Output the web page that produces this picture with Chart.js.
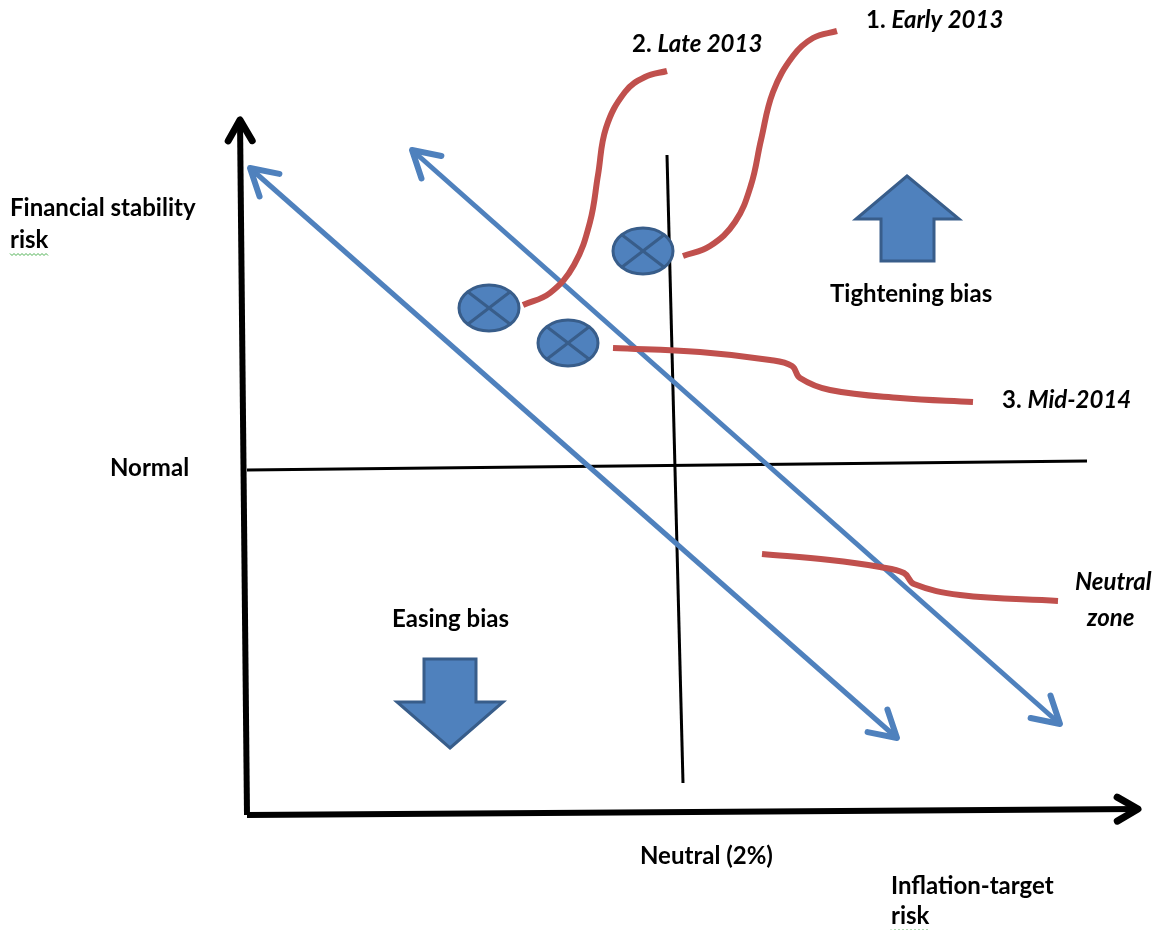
<!DOCTYPE html>
<html>
<head>
<meta charset="utf-8">
<script src="https://cdn.jsdelivr.net/npm/chart.js@4.4.1/dist/chart.umd.min.js"></script>
<style>
  body { margin: 0; background: #fff; }
  #wrap { width: 1163px; height: 930px; }
</style>
</head>
<body>
<div id="wrap"><canvas id="diagram" width="1163" height="930"></canvas></div>
<script>
// diagram space: x 0..1163 left->right, y 0..930 top->bottom
const yAxisPts = [[247, 815], [240, 120]];
const xAxisPts = [[247, 815], [1138, 809]];
const normalLine = [[247, 470], [1087, 461]];
const neutralLine = [[667, 155], [683, 783]];
const bandLow = [[250, 168], [897, 738]];
const bandHigh = [[412, 150], [1060, 724]];

const earlyPath = [[683, 256], [710, 246], [735, 222], [751, 185], [761, 140], [773, 92], [793, 56], [813, 38], [837, 31]];
const latePath = [[523, 305], [550, 293], [574, 265], [590, 222], [598, 175], [606, 128], [625, 92], [645, 77], [667, 71]];
const midPath = [[613, 348], [700, 352], [770, 360], [792, 366], [800, 378], [830, 390], [900, 398], [973, 402]];
const zonePath = [[762, 554], [830, 560], [880, 567], [904, 573], [914, 584], [960, 595], [1058, 601]];

const positionNames = ['Late 2013', 'Early 2013', 'Mid-2014'];
const positionX = [489, 643, 568];
const positionY = [308, 251, 343];

const upArrow = [[907, 176], [959, 219], [934, 219], [934, 261], [881, 261], [881, 219], [856, 219]];
const downArrow = [[450, 748], [503, 702], [476, 702], [476, 659], [424, 659], [424, 702], [397, 702]];

const labelTexts = [
  [['Financial stability', false]],
  [['risk', false]],
  [['Normal', false]],
  [['Tightening bias', false]],
  [['Easing bias', false]],
  [['2. ', false], ['Late 2013', true]],
  [['1. ', false], ['Early 2013', true]],
  [['3. ', false], ['Mid-2014', true]],
  [['Neutral', true]],
  [['zone', true]],
  [['Neutral (2%)', false]],
  [['Inflation-target', false]],
  [['risk', false]]
];
const labelX = [10, 10, 110, 830, 392, 632, 866, 1002, 1075, 1087, 640, 891, 891];
const labelY = [208, 240, 468, 294, 619, 44, 20, 400, 582, 618, 856, 886, 916];
const squiggled = [1, 12];

const BLUE = '#4f81bd';
const BLUE_DARK = '#385d8a';
const RED = '#c0504d';
const FONT = 'Lato, "Open Sans", sans-serif';

function pts(arr) { return arr.map(p => ({ x: p[0], y: p[1] })); }

function lineSet(arr, color, width, opts) {
  return Object.assign({
    data: pts(arr), showLine: true, borderColor: color, borderWidth: width,
    pointRadius: 0, fill: false, tension: 0, borderCapStyle: 'butt'
  }, opts || {});
}

const datasets = [
  lineSet(earlyPath, RED, 6, { tension: 0.4, order: 1 }),
  lineSet(latePath, RED, 6, { tension: 0.4, order: 1 }),
  lineSet(midPath, RED, 6, { tension: 0.4, order: 1 }),
  lineSet(zonePath, RED, 6, { tension: 0.4, order: 1 }),
  lineSet(bandLow, BLUE, 5, { order: 2, arrow: 'both', head: 30 }),
  lineSet(bandHigh, BLUE, 5, { order: 2, arrow: 'both', head: 30 }),
  lineSet(normalLine, '#000', 3, { order: 3 }),
  lineSet(neutralLine, '#000', 3, { order: 3 }),
  lineSet(yAxisPts, '#000', 6, { order: 3, arrow: 'end', head: 24 }),
  lineSet(xAxisPts, '#000', 6, { order: 3, arrow: 'end', head: 24 })
];

function chevron(ctx, tip, from, len, color, width) {
  const ang = Math.atan2(from.y - tip.y, from.x - tip.x);
  const spread = Math.PI / 6;
  ctx.save();
  ctx.strokeStyle = color;
  ctx.lineWidth = width;
  ctx.lineCap = 'round';
  ctx.lineJoin = 'round';
  ctx.beginPath();
  ctx.moveTo(tip.x + len * Math.cos(ang - spread), tip.y + len * Math.sin(ang - spread));
  ctx.lineTo(tip.x, tip.y);
  ctx.lineTo(tip.x + len * Math.cos(ang + spread), tip.y + len * Math.sin(ang + spread));
  ctx.stroke();
  ctx.restore();
}

const diagramPlugin = {
  id: 'diagram',
  afterDatasetsDraw(chart) {
    const ctx = chart.ctx;
    const sx = chart.scales.x, sy = chart.scales.y;
    const px = v => sx.getPixelForValue(v);
    const py = v => sy.getPixelForValue(v);

    // arrow heads on line ends
    chart.data.datasets.forEach((ds, i) => {
      if (!ds.arrow) return;
      const pts = chart.getDatasetMeta(i).data;
      const n = pts.length;
      chevron(ctx, pts[n - 1], pts[n - 2], ds.head, ds.borderColor, ds.borderWidth + 1);
      if (ds.arrow === 'both') chevron(ctx, pts[0], pts[1], ds.head, ds.borderColor, ds.borderWidth + 1);
    });

    // block arrows
    [upArrow, downArrow].forEach(poly => {
      ctx.save();
      ctx.beginPath();
      poly.forEach((p, k) => k ? ctx.lineTo(px(p[0]), py(p[1])) : ctx.moveTo(px(p[0]), py(p[1])));
      ctx.closePath();
      ctx.fillStyle = BLUE;
      ctx.fill();
      ctx.strokeStyle = BLUE_DARK;
      ctx.lineWidth = 3;
      ctx.lineJoin = 'miter';
      ctx.stroke();
      ctx.restore();
    });

    // position markers
    positionX.forEach((vx, k) => {
      const cx = px(vx), cy = py(positionY[k]);
      const rx = Math.abs(px(vx + 30) - cx), ry = Math.abs(py(positionY[k] + 23) - cy);
      ctx.save();
      ctx.beginPath();
      ctx.ellipse(cx, cy, rx, ry, 0, 0, Math.PI * 2);
      ctx.fillStyle = BLUE;
      ctx.fill();
      ctx.strokeStyle = BLUE_DARK;
      ctx.lineWidth = 3;
      ctx.stroke();
      const a = Math.PI / 4;
      ctx.beginPath();
      ctx.moveTo(cx - rx * Math.cos(a), cy - ry * Math.sin(a));
      ctx.lineTo(cx + rx * Math.cos(a), cy + ry * Math.sin(a));
      ctx.moveTo(cx + rx * Math.cos(a), cy - ry * Math.sin(a));
      ctx.lineTo(cx - rx * Math.cos(a), cy + ry * Math.sin(a));
      ctx.stroke();
      ctx.restore();
    });

    // text
    ctx.save();
    ctx.textBaseline = 'middle';
    ctx.fillStyle = '#000';
    labelTexts.forEach((parts, k) => {
      let x = px(labelX[k]);
      const y = py(labelY[k]);
      const start = x;
      parts.forEach(([t, ital]) => {
        ctx.font = (ital ? 'italic ' : '') + 'bold 24px ' + FONT;
        ctx.fillText(t, x, y);
        x += ctx.measureText(t).width;
      });
      if (squiggled.includes(k)) {
        ctx.beginPath();
        ctx.strokeStyle = '#4caf50';
        ctx.lineWidth = 1;
        for (let s = start; s <= x; s += 2) {
          const yy = y + 14 + ((Math.round((s - start) / 2) % 2) ? 1.5 : -0.5);
          s === start ? ctx.moveTo(s, yy) : ctx.lineTo(s, yy);
        }
        ctx.stroke();
      }
    });
    ctx.restore();
  }
};

new Chart(document.getElementById('diagram'), {
  type: 'scatter',
  data: { datasets },
  options: {
    responsive: false,
    animation: false,
    layout: { padding: 0 },
    scales: {
      x: { type: 'linear', min: 0, max: 1163, display: false },
      y: { type: 'linear', min: 0, max: 930, reverse: true, display: false }
    },
    plugins: {
      legend: { display: false },
      tooltip: { enabled: false }
    }
  },
  plugins: [diagramPlugin]
});
</script>
</body>
</html>
